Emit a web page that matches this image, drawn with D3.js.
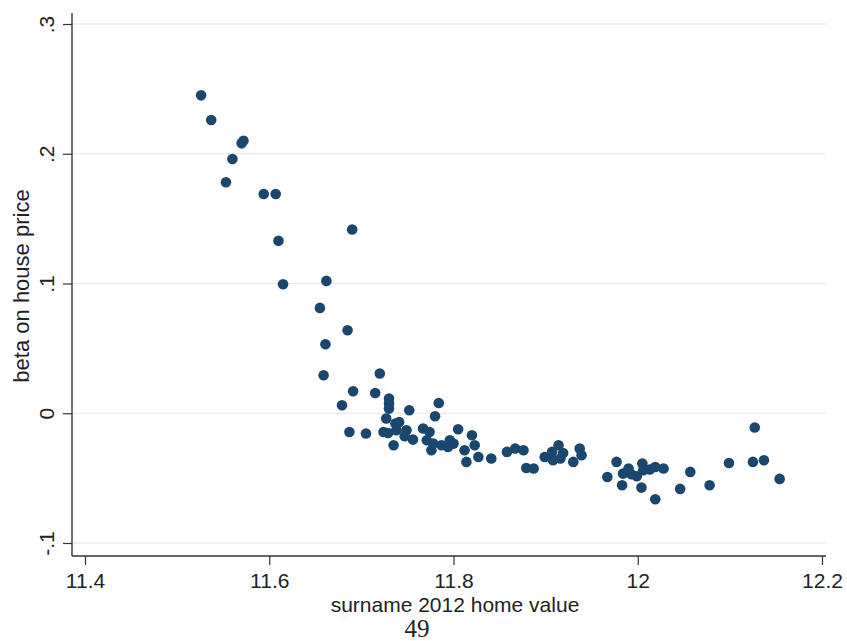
<!DOCTYPE html>
<html>
<head>
<meta charset="utf-8">
<script src="https://cdn.jsdelivr.net/npm/d3@7"></script>
<style>
  html, body { margin: 0; padding: 0; background: #ffffff; }
  svg { display: block; }
  text { font-family: "Liberation Sans", Arial, sans-serif; fill: #222; }
</style>
</head>
<body>
<svg id="chart" width="847" height="641"></svg>
<script>
// Surname-level 2012 home value (log) vs. estimated beta on house price
const homeValue = [
  11.526, 11.537, 11.570, 11.572, 11.560, 11.553, 11.594, 11.607, 11.610, 11.690,
  11.615, 11.662, 11.655, 11.685, 11.661, 11.659, 11.720, 11.691, 11.715, 11.679,
  11.730, 11.730, 11.730, 11.752, 11.784, 11.780, 11.727, 11.737, 11.741, 11.687,
  11.705, 11.724, 11.729, 11.738, 11.749, 11.747, 11.756, 11.767, 11.774, 11.771,
  11.778, 11.735, 11.776, 11.787, 11.794, 11.805, 11.796, 11.800, 11.820, 11.823,
  11.812, 11.814, 11.827, 11.841, 11.858, 11.867, 11.876, 11.879, 11.887, 11.899,
  11.907, 11.914, 11.916, 11.908, 11.919, 11.937, 11.939, 11.930, 11.967, 11.977,
  11.983, 11.984, 11.990, 11.993, 11.999, 12.004, 12.005, 12.006, 12.013, 12.019,
  12.028, 12.019, 12.046, 12.057, 12.078, 12.099, 12.127, 12.125, 12.137, 12.154
];
const beta = [
  0.245, 0.226, 0.208, 0.210, 0.196, 0.178, 0.169, 0.169, 0.133, 0.1416,
  0.0994, 0.102, 0.0812, 0.064, 0.0532, 0.0293, 0.0306, 0.017, 0.0156, 0.0062,
  0.0113, 0.0075, 0.0036, 0.0023, 0.0079, -0.0023, -0.0041, -0.0079, -0.0067, -0.0144,
  -0.0156, -0.0144, -0.0152, -0.0131, -0.0131, -0.0177, -0.0203, -0.0118, -0.0144, -0.0208,
  -0.0234, -0.0247, -0.0285, -0.0247, -0.026, -0.0123, -0.0208, -0.0234, -0.017, -0.0247,
  -0.0285, -0.0375, -0.0337, -0.0349, -0.0298, -0.0272, -0.0285, -0.0422, -0.0426, -0.0337,
  -0.0298, -0.0247, -0.0349, -0.0362, -0.0306, -0.0272, -0.0324, -0.0375, -0.0491, -0.0375,
  -0.0555, -0.0465, -0.0426, -0.047, -0.0486, -0.0573, -0.0388, -0.0439, -0.0434, -0.0414,
  -0.0426, -0.0663, -0.0583, -0.0452, -0.0555, -0.0383, -0.011, -0.0375, -0.0362, -0.0506
];

const xTicks = [11.4, 11.6, 11.8, 12, 12.2];
const xTickLabels = ["11.4", "11.6", "11.8", "12", "12.2"];
const yTicks = [-0.1, 0, 0.1, 0.2, 0.3];
const yTickLabels = ["-.1", "0", ".1", ".2", ".3"];

const xTitle = "surname 2012 home value";
const yTitle = "beta on house price";
const pageNumber = "49";

// plot region
const plot = { left: 72, right: 826, top: 13, bottom: 556 };
const markerColor = "#1a476f";

const svg = d3.select("#chart");

const x = d3.scaleLinear().domain([11.4, 12.2]).range([85, 822]);
const y = d3.scaleLinear().domain([-0.1, 0.3]).range([543, 24]);

// horizontal grid lines
svg.append("g")
  .selectAll("line")
  .data(yTicks)
  .join("line")
  .attr("x1", plot.left + 1)
  .attr("x2", plot.right)
  .attr("y1", d => y(d))
  .attr("y2", d => y(d))
  .attr("stroke", "#e6e6e6")
  .attr("stroke-width", 1.2);

// y axis
const yAxis = svg.append("g")
  .attr("transform", `translate(${plot.left},0)`)
  .call(d3.axisLeft(y)
    .tickValues(yTicks)
    .tickFormat((d, i) => yTickLabels[i])
    .tickSize(9)
    .tickPadding(0));
yAxis.select(".domain").remove();
yAxis.selectAll(".tick line").attr("stroke", "#333").attr("stroke-width", 1.2);
yAxis.selectAll(".tick text")
  .attr("x", null).attr("dy", null)
  .attr("text-anchor", "middle")
  .attr("transform", "translate(-18,0) rotate(-90)")
  .style("font-size", "21px")
  .style("font-family", "'Liberation Sans', Arial, sans-serif")
  .attr("fill", "#222");

// x axis
const xAxis = svg.append("g")
  .attr("transform", `translate(0,${plot.bottom})`)
  .call(d3.axisBottom(x)
    .tickValues(xTicks)
    .tickFormat((d, i) => xTickLabels[i])
    .tickSize(9)
    .tickPadding(0));
xAxis.select(".domain").remove();
xAxis.selectAll(".tick line").attr("stroke", "#333").attr("stroke-width", 1.2);
xAxis.selectAll(".tick text")
  .attr("y", 32).attr("dy", null)
  .style("font-size", "21px")
  .style("font-family", "'Liberation Sans', Arial, sans-serif")
  .attr("fill", "#222");

// axis lines
svg.append("line")
  .attr("x1", plot.left).attr("x2", plot.left)
  .attr("y1", plot.top).attr("y2", plot.bottom)
  .attr("stroke", "#333").attr("stroke-width", 1.4);
svg.append("line")
  .attr("x1", plot.left).attr("x2", plot.right)
  .attr("y1", plot.bottom).attr("y2", plot.bottom)
  .attr("stroke", "#333").attr("stroke-width", 1.4);

// scatter points
svg.append("g")
  .selectAll("circle")
  .data(homeValue.map((v, i) => ({ x: v, y: beta[i] })))
  .join("circle")
  .attr("cx", d => x(d.x))
  .attr("cy", d => y(d.y))
  .attr("r", 5.3)
  .attr("fill", markerColor);

// axis titles
svg.append("text")
  .attr("x", 455).attr("y", 612)
  .attr("text-anchor", "middle")
  .style("font-size", "21px")
  .text(xTitle);

svg.append("text")
  .attr("transform", "translate(29,286) rotate(-90)")
  .attr("text-anchor", "middle")
  .style("font-size", "22px")
  .text(yTitle);

// page number
svg.append("text")
  .attr("x", 417).attr("y", 637)
  .attr("text-anchor", "middle")
  .style("font-family", "'Liberation Serif', 'Times New Roman', serif")
  .style("font-size", "25px")
  .attr("fill", "#000")
  .text(pageNumber);
</script>
</body>
</html>
